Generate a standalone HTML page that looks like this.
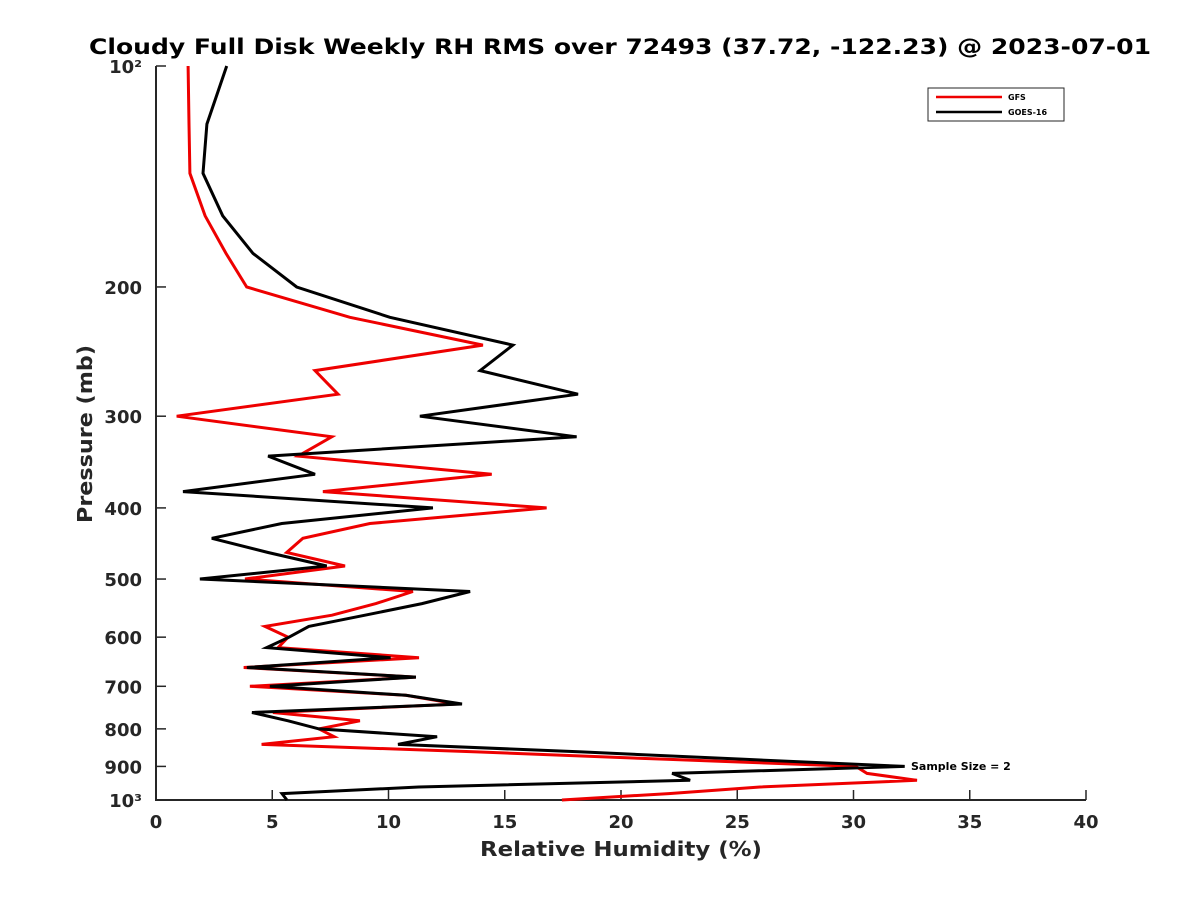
<!DOCTYPE html>
<html><head><meta charset="utf-8"><style>
body{margin:0;background:#fff;}
svg{display:block;font-family:"DejaVu Sans","Liberation Sans",sans-serif;}
</style></head><body>
<svg id="chart" width="1200" height="900" viewBox="0 0 1200 900">
<rect width="1200" height="900" fill="#fff"/>
<text x="620" y="54" text-anchor="middle" font-size="21" font-weight="bold" fill="#000" textLength="1062" lengthAdjust="spacingAndGlyphs">Cloudy Full Disk Weekly RH RMS over 72493 (37.72, -122.23) @ 2023-07-01</text>
<g id="axes"></g>
<g id="series"></g>
<text x="621" y="856" text-anchor="middle" font-size="20" font-weight="bold" fill="#262626" textLength="282" lengthAdjust="spacingAndGlyphs">Relative Humidity (%)</text>
<text transform="translate(92,434) rotate(-90)" text-anchor="middle" font-size="20" font-weight="bold" fill="#262626" textLength="178" lengthAdjust="spacingAndGlyphs">Pressure (mb)</text>
<text x="911" y="770" font-size="11" font-weight="bold" fill="#000">Sample Size = 2</text>
<g>
<rect x="928" y="88" width="136" height="33" fill="#fff" stroke="#262626" stroke-width="1"/>
<line x1="936" y1="97" x2="1002" y2="97" stroke="#e00" stroke-width="2.5"/>
<text x="1008" y="100" font-size="8" font-weight="bold">GFS</text>
<line x1="936" y1="112" x2="1002" y2="112" stroke="#000" stroke-width="2.5"/>
<text x="1008" y="115" font-size="8" font-weight="bold">GOES-16</text>
</g>
</svg>
<script>
const pressures=[100,120,140,160,180,200,220,240,260,280,300,320,340,360,380,400,420,440,460,480,500,520,540,560,580,600,620,640,660,680,700,720,740,760,780,800,820,840,860,880,900,920,940,960,980,1000];
const goesValues=[3.04,2.19,2.02,2.87,4.17,6.05,10.06,15.35,13.94,18.15,11.35,18.09,4.82,6.84,1.16,11.91,5.41,2.40,4.82,7.34,1.89,13.51,11.44,8.99,6.57,5.72,4.76,10.09,3.91,11.18,4.90,10.75,13.16,4.13,5.68,7.01,12.09,10.41,18.3,25.3,32.2,22.2,22.97,11.3,5.42,5.63];
const gfsValues=[1.38,1.42,1.46,2.11,3.01,3.90,8.34,14.06,6.84,7.83,0.89,7.56,6.11,14.44,7.18,16.80,9.20,6.32,5.62,8.13,3.83,11.05,9.46,7.57,4.69,5.68,5.25,11.31,3.77,11.18,4.04,10.75,12.95,5.03,8.77,7.01,7.66,4.54,13.8,21.96,30.1,30.58,32.73,25.98,22.05,17.46];
const xTicks=[0,5,10,15,20,25,30,35,40];
const yTickValues=[100,200,300,400,500,600,700,800,900,1000];
const yTickLabels=["10²","200","300","400","500","600","700","800","900","10³"];

const X0=156,X1=1086,Y0=66,Y1=800;
const xs=v=>X0+(v-0)/40*(X1-X0);
const ys=p=>Y0+(Math.log10(p)-2)*(Y1-Y0);
const NS="http://www.w3.org/2000/svg";
function mk(tag,attrs,parent){const e=document.createElementNS(NS,tag);for(const k in attrs)e.setAttribute(k,attrs[k]);parent.appendChild(e);return e;}
const axes=document.getElementById('axes');
const yAxis=mk('line',{x1:X0,y1:Y0,x2:X0,y2:Y1,stroke:'#262626','stroke-width':2},axes);


const xAxis=mk('line',{x1:X0-1,y1:Y1,x2:X1,y2:Y1,stroke:'#262626','stroke-width':2},axes);


xTicks.forEach(v=>{
  const t=mk('line',{x1:xs(v),y1:Y1,x2:xs(v),y2:Y1-10,stroke:'#262626','stroke-width':1.5},axes);
  
  
  const l=mk('text',{x:xs(v),y:Y1+28,'text-anchor':'middle','font-size':18,'font-weight':'bold',fill:'#262626'},axes);
  l.textContent=v;
  
  
});
yTickValues.forEach((p,i)=>{
  const y=ys(p);
  const t=mk('line',{x1:X0,y1:y,x2:X0+10,y2:y,stroke:'#262626','stroke-width':1.5},axes);
  
  
  const l=mk('text',{x:X0-14,y:y+7,'text-anchor':'end','font-size':18,'font-weight':'bold',fill:'#262626'},axes);
  l.textContent=yTickLabels[i];
  
  
});
const series=document.getElementById('series');
function line(vals,color,name){
  const pts=vals.map((v,i)=>xs(v).toFixed(1)+','+ys(pressures[i]).toFixed(1)).join(' ');
  const pl=mk('polyline',{points:pts,fill:'none',stroke:color,'stroke-width':3,'stroke-linejoin':'miter','stroke-miterlimit':4},series);
  
  
}
line(gfsValues,'#e00','gfs-line');
line(goesValues,'#000','goes16-line');
</script>
</body></html>
